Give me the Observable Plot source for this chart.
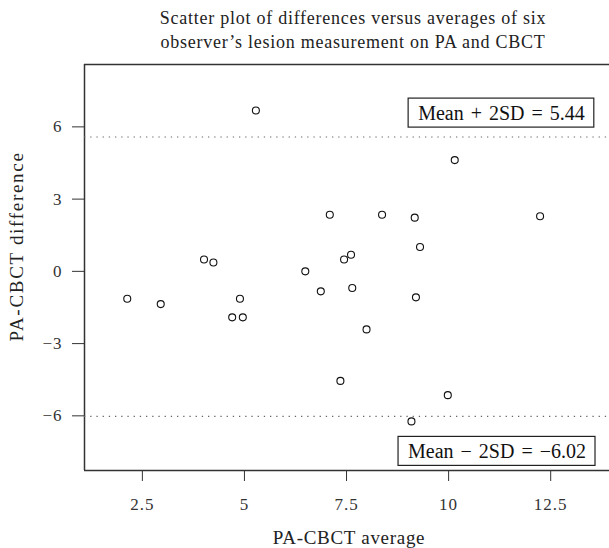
<!DOCTYPE html>
<html><head><meta charset="utf-8">
<script src="https://cdn.jsdelivr.net/npm/d3@7"></script>
<script src="https://cdn.jsdelivr.net/npm/@observablehq/plot@0.6"></script>
<style>
body{margin:0;background:#fff;}
#title{font-family:"Liberation Serif",serif;font-size:18px;letter-spacing:0.75px;line-height:24px;height:60px;box-sizing:border-box;padding-top:6px;padding-left:97px;text-align:center;color:#222;width:609px;white-space:nowrap}
</style></head><body>
<div id="title">Scatter plot of differences versus averages of six<br>observer’s lesion measurement on PA and CBCT</div>
<div id="chart"></div>
<script>
const averages    = [7.09, 8.37, 9.17, 12.24, 9.30, 4.01, 4.24, 7.44, 7.61, 6.49, 6.87, 7.64, 9.20, 2.13, 2.95, 4.89, 4.70, 4.96, 7.99, 5.28, 10.15, 7.35, 9.98, 9.09];
const differences = [2.35, 2.35, 2.23, 2.29, 1.01, 0.49, 0.37, 0.49, 0.69, 0.00, -0.83, -0.69, -1.08, -1.14, -1.36, -1.14, -1.91, -1.91, -2.41, 6.68, 4.62, -4.55, -5.14, -6.23];
const xTicks = [2.5, 5, 7.5, 10, 12.5];
const yTicks = [-6, -3, 0, 3, 6];
const limitLines = [5.58, -6.02];
const upperLabel = ["Mean + 2SD = 5.44"];
const lowerLabel = ["Mean \u2212 2SD = \u22126.02"];
const xLabel = ["PA-CBCT average"];
const yLabel = ["PA-CBCT difference"];
const xDomain = [1.083, 13.94];
const yDomain = [-8.27, 8.59];

const points = averages.map((a, i) => ({avg: a, diff: differences[i]}));
const ink = "#333";
const fmtY = d => d < 0 ? "\u2212" + (-d) : String(d);

const chart = Plot.plot({
  width: 609,
  height: 488,
  marginLeft: 84,
  marginRight: 0,
  marginTop: 4,
  marginBottom: 78,
  style: {fontFamily: "Liberation Serif, serif", fontSize: "17px", letterSpacing: "1px", color: ink, background: "#fff"},
  x: {domain: xDomain, ticks: xTicks, tickFormat: d => String(d), tickSize: 11, tickPadding: 16, label: null},
  y: {domain: yDomain, ticks: yTicks, tickFormat: fmtY, tickSize: 12, tickPadding: 10, label: null},
  marks: [
    Plot.ruleY(yDomain, {stroke: ink, strokeWidth: 1.5}),
    Plot.ruleX([xDomain[0]], {stroke: ink, strokeWidth: 1.5}),
    Plot.ruleY(limitLines, {stroke: "#666", strokeWidth: 1.2, strokeDasharray: "1.3,4.9"}),
    Plot.dot(points, {x: "avg", y: "diff", r: 3.5, stroke: "#111", strokeWidth: 1.1, fill: "none"}),
    Plot.text(upperLabel, {text: d => d, frameAnchor: "top-right", textAnchor: "end", lineAnchor: "middle", dx: -24.7, dy: 48.7, fontSize: 20, fill: "#111"}),
    Plot.text(lowerLabel, {text: d => d, frameAnchor: "bottom-right", textAnchor: "end", lineAnchor: "middle", dx: -23.5, dy: -19, fontSize: 20, fill: "#111"}),
    Plot.text(xLabel, {text: d => d, frameAnchor: "bottom", textAnchor: "middle", lineAnchor: "middle", dx: 2, dy: 67, fontSize: 19, fill: "#222"}),
    Plot.text(yLabel, {text: d => d, frameAnchor: "left", textAnchor: "middle", lineAnchor: "middle", rotate: -90, dx: -67.5, dy: -21, fontSize: 19, fill: "#222"})
  ]
});
document.getElementById("chart").appendChild(chart);

const textGroups = chart.querySelectorAll('g[aria-label="text"]');
const [gUpper, gLower, gX, gY] = textGroups;
if (gX) gX.setAttribute("letter-spacing", "0.7");
if (gY) gY.setAttribute("letter-spacing", "1.7");
[gUpper, gLower].forEach(g => {
  if (!g) return;
  g.setAttribute("letter-spacing", "0");
  g.setAttribute("word-spacing", "2");
  g.querySelectorAll("text").forEach(t => {
    const b = t.getBBox();
    const r = document.createElementNS("http://www.w3.org/2000/svg", "rect");
    const cy = b.y + b.height / 2;
    r.setAttribute("x", b.x - 10);
    r.setAttribute("y", cy - 14.5);
    r.setAttribute("width", b.width + 19);
    r.setAttribute("height", 29);
    r.setAttribute("fill", "#fff");
    r.setAttribute("stroke", "#222");
    r.setAttribute("stroke-width", 1.2);
    const tr = t.getAttribute("transform");
    if (tr) r.setAttribute("transform", tr);
    t.parentNode.insertBefore(r, t);
  });
});
</script>
</body></html>
